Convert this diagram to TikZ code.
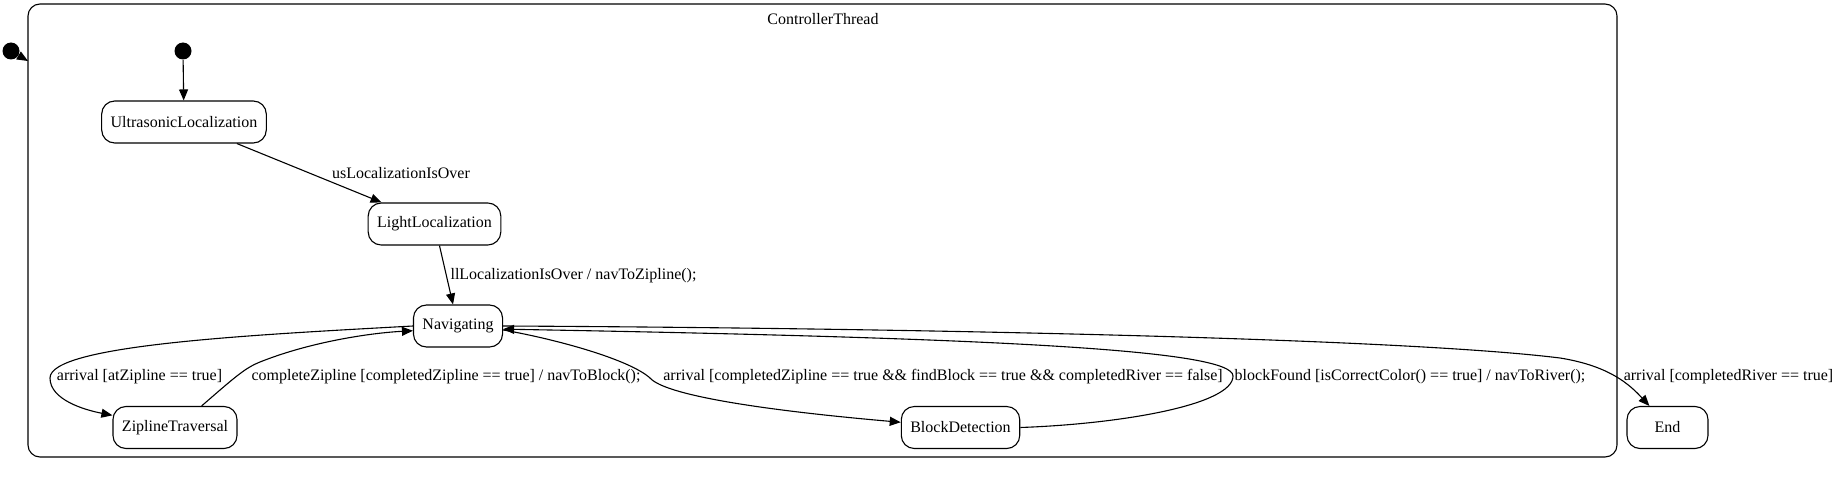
\documentclass[tikz,border=0pt]{standalone}
\usepackage{fontspec}
\setmainfont{Liberation Serif}
\usetikzlibrary{arrows.meta}
\begin{document}
\begin{tikzpicture}[x=1pt, y=-1pt, line width=1.1pt,
   font=\fontsize{16}{19}\selectfont,
   state/.style={draw, rounded corners=13pt, minimum height=42pt, minimum width=81pt, inner xsep=9pt},
   dot/.style={circle, fill, inner sep=0pt, minimum size=17pt},
   tr/.style={-{Triangle[length=11pt,width=9pt]}}]
   \useasboundingbox (0,0) rectangle (1843,500);
   \draw[rounded corners=12pt] (28,4) rectangle (1617,457);
   \node (ct) at (823,19) {ControllerThread};
   \node[dot] (i0) at (11,51) {};
   \coordinate (c0) at (28,61);
   \node[dot] (i1) at (183,51) {};
   \node[state] (ul) at (184,122) {UltrasonicLocalization};
   \node[state] (ll) at (434.5,224) {LightLocalization};
   \node[state] (nav) at (458,326) {Navigating};
   \node[state] (zip) at (175,427.5) {ZiplineTraversal};
   \node[state] (blk) at (960.5,427.5) {BlockDetection};
   \node[state] (fin) at (1667.5,427.5) {End};
   \draw[tr] (i0) -- (c0);
   \draw[tr] (i1) -- (ul);
   \draw[tr] (ul) -- (ll);
   \draw[tr] (ll) -- (nav);
   \draw[tr] (nav.west) .. controls (250,335) and (50,345) .. (50,378) .. controls (50,400) and (85,410) .. (zip.169);
   \draw[tr] (zip.39) .. controls (235,377) and (245,368) .. (260,362) .. controls (310,342) and (370,333) .. (nav.186);
   \draw[tr] (nav.-5) .. controls (560,340) and (630,360) .. (650,378) .. controls (665,395) and (760,410) .. (blk.175);
   \draw[tr] (blk.east) .. controls (1120,424) and (1233,405) .. (1233,376) .. controls (1233,350) and (1000,338) .. (nav.-4);
   \draw[tr] (nav.east) .. controls (900,328) and (1400,338) .. (1560,358) .. controls (1610,366) and (1630,385) .. (fin.130);
   \node (l1) at (401,173) {usLocalizationIsOver};
   \node (l2) at (573.5,276) {llLocalizationIsOver / navToZipline();};
   \node (l3) at (139.5,377) {arrival [atZipline == true]};
   \node (l4) at (446,377) {completeZipline [completedZipline == true] / navToBlock();};
   \node (l5) at (943,377) {arrival [completedZipline == true \&\& findBlock == true \&\& completedRiver == false]};
   \node (l6) at (1410,377) {blockFound [isCorrectColor() == true] / navToRiver();};
   \node (l7) at (1728.5,377) {arrival [completedRiver == true]};
\end{tikzpicture}
\end{document}
